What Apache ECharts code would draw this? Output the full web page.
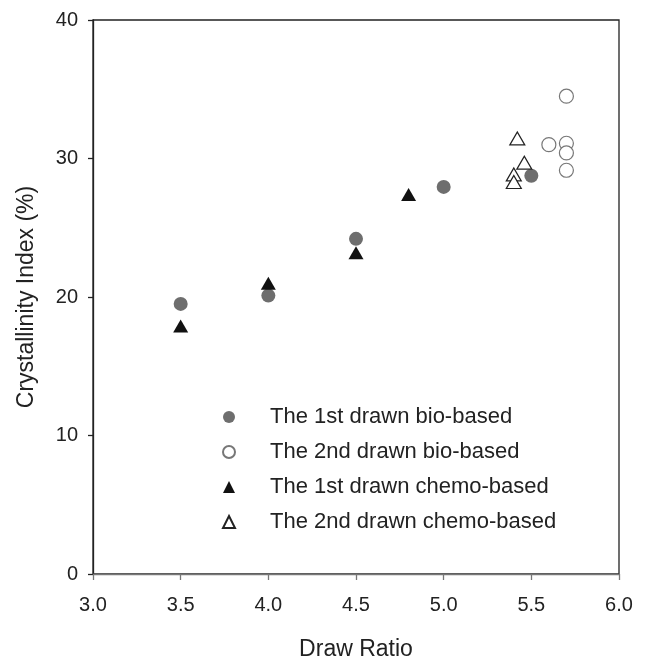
<!DOCTYPE html>
<html><head><meta charset="utf-8">
<script src="https://cdn.jsdelivr.net/npm/echarts@6/dist/echarts.min.js"></script>
<style>html,body{margin:0;padding:0;background:#fff}#c{width:647px;height:662px}</style>
</head><body><div id="c"></div>
<script>
const bio1X = [3.5, 4.0, 4.5, 5.0, 5.5];
const bio1Y = [19.5, 20.1, 24.2, 27.95, 28.75];
const bio2X = [5.7, 5.6, 5.7, 5.7, 5.7];
const bio2Y = [34.5, 31.0, 31.1, 30.4, 29.15];
const chem1X = [3.5, 4.0, 4.5, 4.8];
const chem1Y = [17.9, 21.0, 23.2, 27.4];
const chem2X = [5.42, 5.46, 5.40, 5.40];
const chem2Y = [31.45, 29.7, 28.85, 28.3];
const seriesNames = ['The 1st drawn bio-based','The 2nd drawn bio-based','The 1st drawn chemo-based','The 2nd drawn chemo-based'];
const pair = (xs, ys) => xs.map((x, i) => [x, ys[i]]);
const FONT = 'Liberation Sans';
const chart = echarts.init(document.getElementById('c'));
chart.setOption({
  animation: false,
  backgroundColor: '#fff',
  grid: {left: 93, top: 20, right: 28, bottom: 88, containLabel: false, outerBoundsMode: 'none',
         show: true, borderColor: '#222', borderWidth: 1.3},
  xAxis: {
    type: 'value', min: 3.0, max: 6.0, interval: 0.5,
    name: 'Draw Ratio', nameLocation: 'middle', nameGap: 64,
    nameTextStyle: {fontFamily: FONT, fontSize: 23, color: '#222'},
    axisLine: {show: true, lineStyle: {color: '#777', width: 1.3}},
    axisTick: {show: true, length: 6, inside: false, lineStyle: {color: '#777', width: 1.3}},
    axisLabel: {fontFamily: FONT, fontSize: 20, color: '#222', margin: 21, formatter: v => v.toFixed(1)},
    splitLine: {show: false}
  },
  yAxis: {
    type: 'value', min: 0, max: 40, interval: 10,
    name: 'Crystallinity Index (%)', nameLocation: 'middle', nameGap: 55,
    nameTextStyle: {fontFamily: FONT, fontSize: 23, color: '#222'},
    axisLine: {show: true, lineStyle: {color: '#222', width: 1.3}},
    axisTick: {show: true, length: 5, lineStyle: {color: '#222', width: 1.3}},
    axisLabel: {fontFamily: FONT, fontSize: 20, color: '#222', margin: 15},
    splitLine: {show: false}
  },
  legend: {
    orient: 'vertical', left: 217, top: 401, itemGap: 13,
    itemWidth: 12, itemHeight: 12,
    textStyle: {fontFamily: FONT, fontSize: 22, color: '#222', padding: [0, 0, 0, 30]},
    data: seriesNames
  },
  series: [
    {name: seriesNames[0], type: 'scatter', symbol: 'circle', symbolSize: 14,
     itemStyle: {color: '#6e6e6e', opacity: 1}, data: pair(bio1X, bio1Y)},
    {name: seriesNames[1], type: 'scatter', symbol: 'circle', symbolSize: 14,
     itemStyle: {color: '#fff', borderColor: '#777', borderWidth: 1.2, opacity: 1}, data: pair(bio2X, bio2Y)},
    {name: seriesNames[2], type: 'scatter', symbol: 'triangle', symbolSize: [15, 13],
     itemStyle: {color: '#111', opacity: 1}, data: pair(chem1X, chem1Y)},
    {name: seriesNames[3], type: 'scatter', symbol: 'triangle', symbolSize: [15, 13],
     itemStyle: {color: '#fff', borderColor: '#222', borderWidth: 1.2, opacity: 1}, data: pair(chem2X, chem2Y)}
  ]
});
</script></body></html>
